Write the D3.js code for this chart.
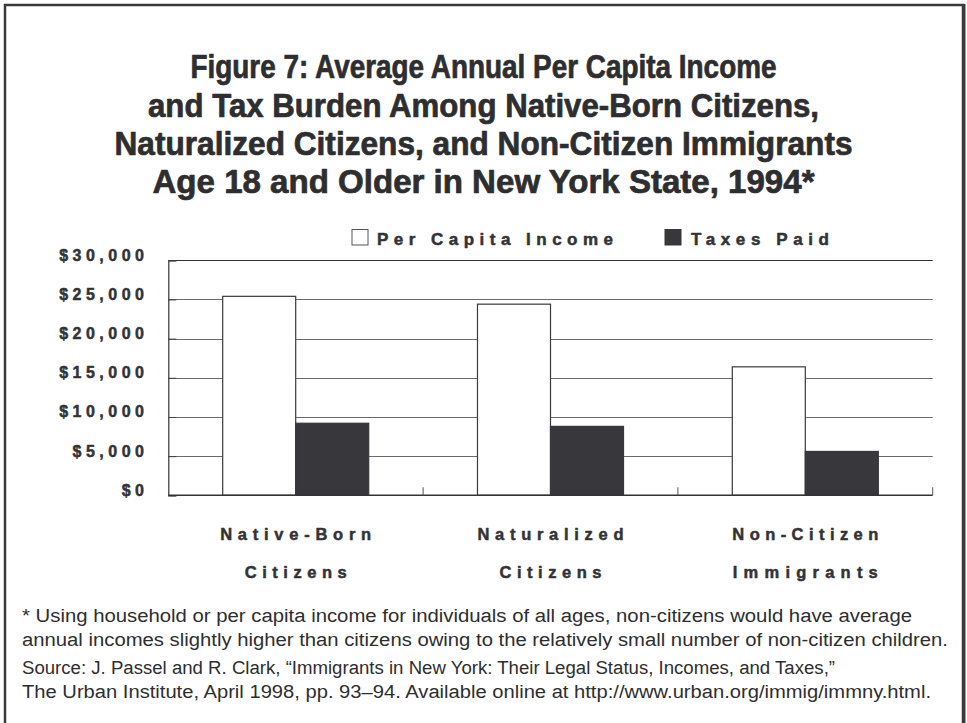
<!DOCTYPE html>
<html>
<head>
<meta charset="utf-8">
<script src="https://cdn.jsdelivr.net/npm/d3@7"></script>
<style>
  html, body { margin: 0; padding: 0; background: #fff; }
  svg { display: block; }
  .heavy { paint-order: stroke; stroke-linejoin: round; }
</style>
</head>
<body>
<svg id="chart" width="967" height="723"></svg>
<script>
// Groups and series
const categories = ["Native-Born Citizens", "Naturalized Citizens", "Non-Citizen Immigrants"];
const categoryLines = [["Native-Born", "Citizens"], ["Naturalized", "Citizens"], ["Non-Citizen", "Immigrants"]];
const seriesNames = ["Per Capita Income", "Taxes Paid"];
const incomeValues = [25400, 24400, 16400];
const taxValues = [9200, 8800, 5600];
const yTicks = [0, 5000, 10000, 15000, 20000, 25000, 30000];

const titleLines = [
  "Figure 7: Average Annual Per Capita Income",
  "and Tax Burden Among Native-Born Citizens,",
  "Naturalized Citizens, and Non-Citizen Immigrants",
  "Age 18 and Older in New York State, 1994*"
];
const noteLines = [
  "* Using household or per capita income for individuals of all ages, non-citizens would have average",
  "annual incomes slightly higher than citizens owing to the relatively small number of non-citizen children.",
  "Source: J. Passel and R. Clark, \u201cImmigrants in New York: Their Legal Status, Incomes, and Taxes,\u201d",
  "The Urban Institute, April 1998, pp. 93\u201394. Available online at http://www.urban.org/immig/immny.html."
];

const ink = "#333336";
const barDark = "#38373c";
const svg = d3.select("#chart");

// Frame
svg.append("rect").attr("x", 5).attr("y", 5).attr("width", 958).attr("height", 740)
  .attr("fill", "none").attr("stroke", "#3a3a3e").attr("stroke-width", 2.5);
svg.append("line").attr("x1", 964).attr("x2", 964).attr("y1", 4).attr("y2", 723)
  .attr("stroke", "#3a3a3e").attr("stroke-width", 3);

// Title (condensed heavy bold)
const titleFont = "'Liberation Sans Narrow','Arial Narrow','Liberation Sans',Arial,sans-serif";
const titleWidths = [586, 671, 738, 662];
const titleBaselines = [78, 117, 155, 193];
svg.append("g").selectAll("text").data(titleLines).join("text")
  .attr("class", "heavy")
  .attr("x", 483.5).attr("y", (d, i) => titleBaselines[i])
  .attr("text-anchor", "middle")
  .attr("font-family", titleFont).attr("font-weight", "bold").attr("font-size", 32.5)
  .attr("fill", "#2e2e30").attr("stroke", "#2e2e30").attr("stroke-width", 0.7)
  .attr("textLength", (d, i) => titleWidths[i]).attr("lengthAdjust", "spacingAndGlyphs")
  .text(d => d);

// Scales
const plot = { left: 168.3, right: 932.7, top: 260.3, bottom: 495.3 };
const x0 = d3.scaleBand().domain(categories).range([plot.left, plot.right]).padding(0);
const x1 = d3.scaleBand().domain(seriesNames).range([0, x0.bandwidth()])
  .paddingInner(0).paddingOuter(0.745);
const y = d3.scaleLinear().domain([0, 30000]).range([plot.bottom, plot.top]);

// Gridlines
const grid = svg.append("g");
grid.selectAll("line").data(yTicks.filter(t => t > 0)).join("line")
  .attr("x1", plot.left).attr("x2", plot.right)
  .attr("y1", d => Math.round(y(d)) + 0.5).attr("y2", d => Math.round(y(d)) + 0.5)
  .attr("stroke", d => d === 30000 ? "#333" : "#6a6a6a").attr("stroke-width", d => d === 30000 ? 1.2 : 1);

// Y axis: inside ticks, labels right-aligned
const yAxis = d3.axisRight(y).tickValues(yTicks).tickSize(8).tickFormat("");
svg.append("g").attr("transform", `translate(${plot.left},0)`).call(yAxis)
  .call(g => g.select(".domain").attr("stroke", ink).attr("stroke-width", 1.2))
  .call(g => g.selectAll(".tick line").attr("stroke", "#444"));

const fmt = d => "$" + d3.format(",")(d);
const labelSize = 16;
svg.append("g").selectAll("text").data(yTicks).join("text")
  .attr("class", "heavy")
  .attr("x", 144).attr("y", d => y(d) + 0.5)
  .attr("text-anchor", "end")
  .attr("font-family", "'Liberation Sans',Arial,sans-serif").attr("font-weight", "bold").attr("font-size", labelSize)
  .attr("fill", ink).attr("stroke", ink).attr("stroke-width", 0.5)
  .each(function(d) {
    const s = fmt(d);
    // glyph advances at this size plus ~4.5px between glyphs
    const natural = [...s].reduce((a, c) => a + (c === "," ? 0.278 : 0.556) * labelSize, 0);
    d3.select(this).attr("textLength", natural + 4.5 * (s.length - 1)).attr("lengthAdjust", "spacing");
  })
  .text(fmt);

// Bars
const rows = categories.map((c, i) => ({ category: c, values: [incomeValues[i], taxValues[i]] }));
const groups = svg.append("g").selectAll("g").data(rows).join("g")
  .attr("transform", d => `translate(${x0(d.category)},0)`);
groups.selectAll("rect").data(d => d.values.map((v, j) => ({ series: seriesNames[j], value: v })))
  .join("rect")
  .attr("x", d => x1(d.series))
  .attr("width", x1.bandwidth())
  .attr("y", d => y(d.value))
  .attr("height", d => y(0) - y(d.value))
  .attr("fill", d => d.series === "Taxes Paid" ? barDark : "#fff")
  .attr("stroke", d => d.series === "Taxes Paid" ? barDark : "#3a3a3a")
  .attr("stroke-width", 1.2);

// X axis baseline with inward ticks at group boundaries
const bounds = categories.map(c => x0(c) + x0.bandwidth());
svg.append("line").attr("x1", plot.left).attr("x2", plot.right)
  .attr("y1", plot.bottom).attr("y2", plot.bottom).attr("stroke", ink).attr("stroke-width", 1.4);
svg.append("g").selectAll("line").data(bounds).join("line")
  .attr("x1", d => d).attr("x2", d => d)
  .attr("y1", plot.bottom).attr("y2", plot.bottom - 8)
  .attr("stroke", "#555").attr("stroke-width", 1);

// Category labels (two lines, letter-spaced)
const catWidths = [[151, 102], [146, 102], [146, 145]];
const catG = svg.append("g").selectAll("g").data(categories).join("g");
catG.each(function(c, i) {
  const cx = x0(c) + x0.bandwidth() / 2;
  d3.select(this).selectAll("text").data(categoryLines[i]).join("text")
    .attr("class", "heavy")
    .attr("x", cx).attr("y", (d, k) => k === 0 ? 539.5 : 577.5)
    .attr("text-anchor", "middle")
    .attr("font-family", "'Liberation Sans',Arial,sans-serif").attr("font-weight", "bold").attr("font-size", 16.5)
    .attr("fill", ink).attr("stroke", ink).attr("stroke-width", 0.5)
    .attr("textLength", (d, k) => catWidths[i][k]).attr("lengthAdjust", "spacing")
    .text(d => d);
});

// Legend
const legend = svg.append("g");
const legendItems = [
  { name: seriesNames[0], box: 352, text: 377, width: 236, fill: "#fff", stroke: "#555" },
  { name: seriesNames[1], box: 665, text: 691, width: 138, fill: barDark, stroke: barDark }
];
legend.selectAll("rect").data(legendItems).join("rect")
  .attr("x", d => d.box).attr("y", 229.5).attr("width", 16).attr("height", 15.5)
  .attr("fill", d => d.fill).attr("stroke", d => d.stroke).attr("stroke-width", 1);
legend.selectAll("text").data(legendItems).join("text")
  .attr("class", "heavy")
  .attr("x", d => d.text).attr("y", 245)
  .attr("font-family", "'Liberation Sans',Arial,sans-serif").attr("font-weight", "bold").attr("font-size", 17)
  .attr("fill", ink).attr("stroke", ink).attr("stroke-width", 0.5)
  .attr("textLength", d => d.width).attr("lengthAdjust", "spacing")
  .text(d => d.name);

// Notes
const noteWidths = [890, 926, 813, 909];
const noteBaselines = [622, 646, 674, 698];
svg.append("g").selectAll("text").data(noteLines).join("text")
  .attr("x", 22).attr("y", (d, i) => noteBaselines[i])
  .attr("font-family", "'Liberation Sans Narrow','Arial Narrow','Liberation Sans',Arial,sans-serif")
  .attr("font-size", 18).attr("fill", "#2e2e30")
  .attr("textLength", (d, i) => noteWidths[i]).attr("lengthAdjust", "spacingAndGlyphs")
  .text(d => d);
</script>
</body>
</html>
